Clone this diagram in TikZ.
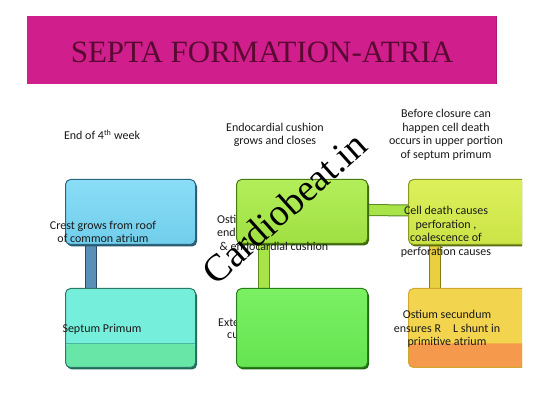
\documentclass[tikz,border=0pt]{standalone}
\usepackage{fontspec}
\setmainfont{Liberation Serif}
\newfontfamily\carl{Carlito}
\usetikzlibrary{calc}
\definecolor{titlebg}{HTML}{D01E8C}
\definecolor{titlefg}{HTML}{5A0A32}
\definecolor{txt}{HTML}{1A1A1A}
\definecolor{bluebar}{HTML}{5A8FB8}
\definecolor{bluebard}{HTML}{2A4A6A}
\definecolor{limebar}{HTML}{A8E448}
\definecolor{limebard}{HTML}{5A8A20}
\definecolor{yelbar}{HTML}{E8D040}
\definecolor{yelbard}{HTML}{8A7A10}
\definecolor{bAsh}{HTML}{2A5A70}\definecolor{bAdr}{HTML}{2A6680}\definecolor{bAt}{HTML}{8ADDF6}\definecolor{bAb}{HTML}{70CEEB}
\definecolor{bBsh}{HTML}{226A58}\definecolor{bBdr}{HTML}{2A7A66}\definecolor{bBf}{HTML}{76EEDC}\definecolor{bBl}{HTML}{68E6A8}\definecolor{bBln}{HTML}{4AB89A}
\definecolor{bCsh}{HTML}{3E6A0C}\definecolor{bCdr}{HTML}{4A7A10}\definecolor{bCt}{HTML}{B2EE5A}\definecolor{bCb}{HTML}{A0E042}
\definecolor{bDsh}{HTML}{1E6A10}\definecolor{bDdr}{HTML}{2A8018}\definecolor{bDt}{HTML}{7AF062}\definecolor{bDb}{HTML}{66E452}
\definecolor{bEsh}{HTML}{5A7010}\definecolor{bEdr}{HTML}{8A9A20}\definecolor{bEt}{HTML}{DCF05C}\definecolor{bEb}{HTML}{CCE446}
\definecolor{bFdr}{HTML}{D0A830}\definecolor{bFf}{HTML}{F3D44E}\definecolor{bFl}{HTML}{F59A4C}
\tikzset{
  cbox/.style={rounded corners=5pt, line width=1pt, minimum width=#1, inner sep=0pt},
  lbl/.style={font=\carl\fontsize{12}{13.5}\selectfont, text=txt, align=center, inner sep=0pt},
  lblw/.style={font=\carl\fontsize{12}{13.5}\selectfont, text=txt, anchor=west, inner sep=0pt},
  shadowed/.style={preaction={fill=#1, transform canvas={shift={(1.5pt,-2pt)}}}},
  bar/.style n args={2}{line width=10pt, draw=#1, preaction={draw=#2, line width=12pt}},
}
\begin{document}
\begin{tikzpicture}[x=1pt,y=-1pt]
\useasboundingbox (0,0) rectangle (549,411);
\fill[white] (0,0) rectangle (549,411);
% title
\fill[titlebg!85!black] (27.5,16.5) rectangle (497,84.5);
\fill[titlebg] (27,16) rectangle (496,84);
\node[font=\fontsize{31}{33}\selectfont, text=titlefg, inner sep=0pt] (title) at (262,52) {SEPTA FORMATION-ATRIA};
% headings
\node[lbl] (h1) at (102,135) {End of 4\textsuperscript{th} week};
\node[lbl] (h2) at (275,135) {Endocardial cushion\\grows and closes};
\node[lbl] (h3) at (446,135) {Before closure can\\happen cell death\\occurs in upper portion\\of septum primum};
% texts hidden behind middle boxes
\node[lblw] (m1) at (217,219) {Osti};
\node[lblw] (m2) at (217,232) {end};
\node[lblw] (m4) at (218,323) {Exte};
\node[lblw] (m5) at (227,336) {cu};
% box nodes (positions)
\node[cbox=129pt, minimum height=64pt] (b1) at (130.5,212) {};
\node[cbox=129pt, minimum height=78pt] (b2) at (130.5,328) {};
\node[cbox=130pt, minimum height=63pt] (b3) at (302,211.5) {};
\node[cbox=130pt, minimum height=78pt] (b4) at (302,328) {};
\node[cbox=128pt, minimum height=64pt] (b5) at (473,212) {};
\node[cbox=128pt, minimum height=78pt] (b6) at (473,328) {};
% connectors
\draw[bar={bluebar}{bluebard}] ([xshift=-39.5pt]b1.south) -- ([xshift=-39.5pt]b2.north);
\draw[bar={limebar}{limebard}] ([xshift=-38pt]b3.south) -- ([xshift=-38pt]b4.north);
\draw[bar={limebar}{limebard}] ([yshift=1.5pt]b3.east) -- ([yshift=1.5pt]b5.west);
\draw[bar={yelbar}{yelbard}] ([xshift=-38pt]b5.south) -- ([xshift=-38pt]b6.north);
% boxes
\path[rounded corners=5pt, line width=1pt, shadowed=bAsh, draw=bAdr, top color=bAt, bottom color=bAb]
  (b1.south west) rectangle (b1.north east);
\path[rounded corners=5pt, line width=1pt, shadowed=bBsh, draw=bBdr, fill=bBf,
  path picture={\fill[bBl] ([yshift=24pt]path picture bounding box.south west) rectangle (path picture bounding box.south east);
                \draw[bBln, line width=0.8pt] ([yshift=24pt]path picture bounding box.south west) -- ([yshift=24pt]path picture bounding box.south east);}]
  (b2.south west) rectangle (b2.north east);
\path[rounded corners=5pt, line width=1pt, shadowed=bCsh, draw=bCdr, top color=bCt, bottom color=bCb]
  (b3.south west) rectangle (b3.north east);
\path[rounded corners=5pt, line width=1pt, shadowed=bDsh, draw=bDdr, top color=bDt, bottom color=bDb]
  (b4.south west) rectangle (b4.north east);
\begin{scope}
\clip (0,0) rectangle (522,411);
\path[rounded corners=5pt, line width=1pt, shadowed=bEsh, draw=bEdr, top color=bEt, bottom color=bEb]
  (b5.south west) rectangle (b5.north east);
\path[rounded corners=5pt, line width=1pt, draw=bFdr, fill=bFf,
  path picture={\fill[bFl] ([yshift=24pt]path picture bounding box.south west) rectangle (path picture bounding box.south east);}]
  (b6.south west) rectangle (b6.north east);
\end{scope}
% texts on boxes
\node[lbl] (t1) at (103,232) {Crest grows from roof\\of common atrium};
\node[lbl] (t2) at (102,329) {Septum Primum};
\node[lbl] (t3) at (274,246) {\& endocardial cushion};
\node[lbl] (t5) at (446,232) {Cell death causes\\perforation ,\\coalescence of\\perforation causes};
\node[lbl] (t6) at (447,329) {Ostium secundum\\ensures R\hspace{12pt}L shunt in\\primitive atrium};
% watermark
\node[font=\fontsize{38}{40}\selectfont, text=black, rotate=42, inner sep=0pt] (wm) at (284,208) {Cardiobeat.in};
\end{tikzpicture}
\end{document}
